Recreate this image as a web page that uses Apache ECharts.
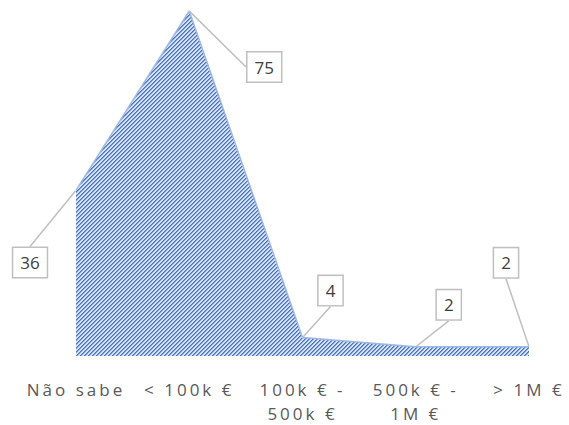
<!DOCTYPE html>
<html>
<head>
<meta charset="utf-8">
<script src="https://cdn.jsdelivr.net/npm/echarts@6/dist/echarts.min.js"></script>
<style>
  html, body { margin: 0; padding: 0; background: #fff; }
  #chart { width: 569px; height: 425px; }
  /* spaced-out category labels, like the original */
  #chart text[fill="#595959"] { letter-spacing: 3px; }
</style>
</head>
<body>
<div id="chart"></div>
<script>
const categories = ["Não sabe", "< 100k €", "100k € -\n500k €", "500k € -\n1M €", "> 1M €"];
const values = [36, 75, 4, 2, 2];
// where each value box sits relative to its point (px)
const labelOffsets = [[-46, 72], [75, 56], [28, -47], [33, -42], [-23, -84]];

// hatched fill: dark "/" stripes on a light blue ground
function makeHatch() {
  const c = document.createElement("canvas");
  c.width = 4;
  c.height = 4;
  const ctx = c.getContext("2d");
  ctx.fillStyle = "#d6e0f2";
  ctx.fillRect(0, 0, 4, 4);
  ctx.fillStyle = "#4673c0";
  for (let i = 0; i < 4; i++) {
    ctx.fillRect(i, 3 - i, 1, 1);
  }
  ctx.fillStyle = "rgba(70,115,192,0.6)";
  for (let i = 0; i < 4; i++) {
    ctx.fillRect(i, (4 - i) % 4, 1, 1);
  }
  return c;
}

const chart = echarts.init(document.getElementById("chart"), null, { renderer: "svg" });

chart.setOption({
  animation: false,
  backgroundColor: "#fff",
  grid: { left: 76, right: 40, top: 11, bottom: 63 },
  xAxis: {
    type: "category",
    data: categories,
    boundaryGap: false,
    axisLine: { show: false },
    axisTick: { show: false },
    axisLabel: {
      color: "#595959",
      fontFamily: "Open Sans",
      fontSize: 17,
      lineHeight: 24,
      margin: 21,
      interval: 0
    }
  },
  yAxis: {
    type: "value",
    min: 0,
    max: 75,
    show: false,
    splitLine: { show: false }
  },
  series: [
    {
      type: "line",
      data: values,
      symbol: "circle",
      symbolSize: 1,
      itemStyle: { color: "rgba(0,0,0,0)" },
      lineStyle: { color: "#9db8e3", width: 1.5 },
      areaStyle: {
        color: { image: makeHatch(), repeat: "repeat" },
        opacity: 1
      },
      label: {
        show: true,
        position: "inside",
        color: "#404040",
        fontFamily: "Open Sans",
        fontSize: 17,
        backgroundColor: "#fff",
        borderColor: "#bfbfbf",
        borderWidth: 1.5,
        padding: [6, 7]
      },
      labelLine: {
        show: true,
        lineStyle: { color: "#bfbfbf", width: 1.5 }
      },
      labelLayout: (params) => ({
        dx: labelOffsets[params.dataIndex][0],
        dy: labelOffsets[params.dataIndex][1]
      })
    }
  ]
});
</script>
</body>
</html>
